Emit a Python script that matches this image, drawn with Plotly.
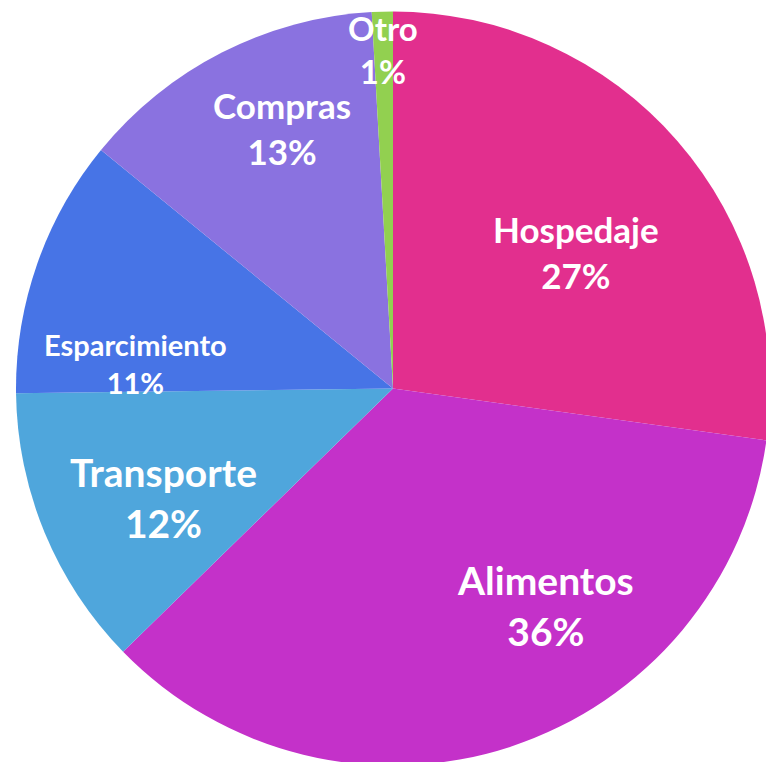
import plotly.graph_objects as go

categorias = ["Hospedaje", "Alimentos", "Transporte", "Esparcimiento", "Compras", "Otro"]
porcentajes = [27.2, 35.5, 12.1, 11.1, 13.2, 0.9]
colores = ["#E22F8E", "#C431C9", "#4FA6DC", "#4774E6", "#8A72E0", "#92D050"]

# label placement (pixel centres) and font sizes
etiqueta_x = [576, 545, 163, 135, 282, 383]
etiqueta_y = [252, 605, 497, 364, 128, 50]
etiqueta_tam = [35, 39, 39, 29, 35, 33]

# figure slightly larger than the window so the pie runs off the right edge
W, H = 770, 766

fig = go.Figure(go.Pie(
    labels=categorias,
    values=porcentajes,
    sort=False,
    direction="clockwise",
    rotation=0,
    marker=dict(colors=colores, line=dict(width=0)),
    textinfo="none",
    hoverinfo="label+percent",
    domain=dict(x=[16 / W, 1], y=[0, 1 - 11 / H]),
    showlegend=False,
))

for cat, pct, x, y, s in zip(categorias, porcentajes, etiqueta_x, etiqueta_y, etiqueta_tam):
    fig.add_annotation(
        x=x / W, y=1 - y / H, xref="paper", yref="paper",
        text=f"<b>{cat}<br>{pct:.0f}%</b>",
        showarrow=False, xanchor="center", yanchor="middle",
        font=dict(family="Lato", size=s, color="white"),
    )

fig.update_layout(
    width=W, height=H,
    margin=dict(l=0, r=0, t=0, b=0),
    paper_bgcolor="white",
)

fig.write_html(
    "out.html",
    config={"displayModeBar": False},
    post_script="document.body.style.margin='0';document.body.style.overflow='hidden';",
)
